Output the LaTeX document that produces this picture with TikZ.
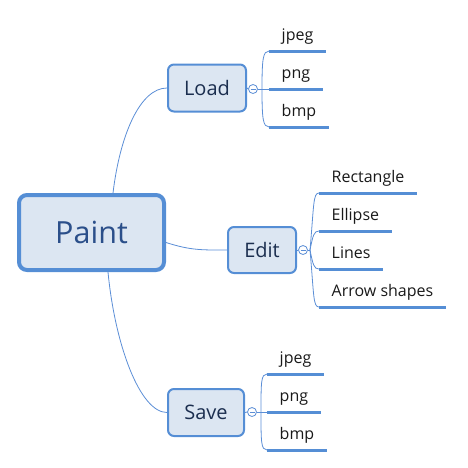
\documentclass[tikz,border=0pt]{standalone}
\usepackage{fontspec}
\setmainfont{Open Sans}
\usetikzlibrary{calc}
\definecolor{boxfill}{HTML}{DCE6F2}
\definecolor{boxline}{HTML}{558ED5}
\definecolor{wire}{HTML}{5B8ED6}
\definecolor{maintext}{HTML}{2B4F8A}
\definecolor{subtext}{HTML}{1B2E4F}
\tikzset{
  topic/.style={draw=boxline, fill=boxfill, line width=4pt, rounded corners=8pt,
    minimum width=145pt, minimum height=75pt, text=maintext,
    font=\fontsize{30.5}{36}\selectfont},
  subtopic/.style={draw=boxline, fill=boxfill, line width=2pt, rounded corners=6pt,
    minimum height=47pt, text=subtext, font=\fontsize{20}{24}\selectfont},
  knob/.style={circle, draw=wire, fill=white, line width=0.8pt, minimum size=9pt, inner sep=0pt,
    path picture={\draw[wire, line width=0.7pt] ([xshift=-2.5pt]path picture bounding box.center)
      -- ([xshift=2.5pt]path picture bounding box.center);}},
  leaf/.style={anchor=south west, inner xsep=12.5pt, inner ysep=10pt, text depth=0pt,
    text=black!90, font=\fontsize{16}{19}\selectfont},
  branch/.style={draw=wire, line width=0.8pt},
  leafline/.style={draw=boxline, line width=3pt}
}
\begin{document}
\begin{tikzpicture}[x=1pt,y=-1pt]
  \useasboundingbox (0,0) rectangle (468,467);

  % main topic and its three branches
  \node[topic] (paint) at (91.5,232.5) {Paint};
  \node[subtopic, minimum width=78pt] (load) at (207,88) {Load};
  \node[subtopic, minimum width=68pt, minimum height=46pt] (edit) at (262,250) {Edit};
  \node[subtopic, minimum width=76pt] (save) at (206,412.5) {Save};

  \coordinate (ptop) at ([xshift=21.5pt]paint.north);
  \coordinate (pbot) at ([xshift=16.5pt]paint.south);
  \coordinate (prgt) at ([yshift=-10pt]paint.east);

  \draw[branch] (ptop) .. controls +(7,-58) and +(-27,0) .. (load.west);
  \draw[branch] (prgt) .. controls +(25,8) and +(-25,0) .. (edit.west);
  \draw[branch] (pbot) .. controls +(7,73) and +(-27,0) .. (save.west);

  % collapse knobs
  \node[knob] (lknob) at (253,89) {};
  \node[knob] (eknob) at (303,250) {};
  \node[knob] (sknob) at (252,412) {};

  % leaves
  \node[leaf] (lj) at (269,51) {jpeg};
  \node[leaf] (lp) at (269,89) {png};
  \node[leaf] (lb) at (269,127) {bmp};

  \node[leaf] (er) at (319,193) {Rectangle};
  \node[leaf] (ee) at (319,231) {Ellipse};
  \node[leaf] (el) at (319,269) {Lines};
  \node[leaf] (ea) at (319,307) {Arrow shapes};

  \node[leaf] (sj) at (267,374) {jpeg};
  \node[leaf] (sp) at (267,412) {png};
  \node[leaf] (sb) at (267,450) {bmp};

  \foreach \n in {lj,lp,lb,er,ee,el,ea,sj,sp,sb}
    \draw[leafline] (\n.south west) -- (\n.south east);

  % brackets
  \coordinate (lfork) at (262,89);
  \draw[branch] (load.east) -- (lknob.west);
  \draw[branch] (lknob.east) -- (lp.south west);
  \draw[branch] (lfork) .. controls +(0,-30) and +(-6,0) .. (lj.south west);
  \draw[branch] (lfork) .. controls +(0,30) and +(-6,0) .. (lb.south west);

  \coordinate (efork) at (310,250);
  \draw[branch] (edit.east) -- (eknob.west);
  \draw[branch] (eknob.east) -- (efork);
  \draw[branch] (efork) .. controls +(4,-45) and +(-6,0) .. (er.south west);
  \draw[branch] (efork) .. controls +(3,-15) and +(-5,0) .. (ee.south west);
  \draw[branch] (efork) .. controls +(3,15) and +(-5,0) .. (el.south west);
  \draw[branch] (efork) .. controls +(4,45) and +(-6,0) .. (ea.south west);

  \coordinate (sfork) at (261,412);
  \draw[branch] (save.east) -- (sknob.west);
  \draw[branch] (sknob.east) -- (sp.south west);
  \draw[branch] (sfork) .. controls +(0,-30) and +(-6,0) .. (sj.south west);
  \draw[branch] (sfork) .. controls +(0,30) and +(-6,0) .. (sb.south west);
\end{tikzpicture}
\end{document}
